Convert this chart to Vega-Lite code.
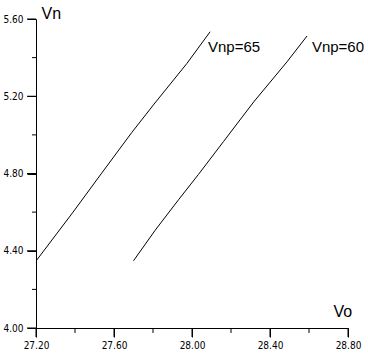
{
  "$schema": "https://vega.github.io/schema/vega-lite/v6.json",
  "width": 312,
  "height": 309,
  "autosize": "none",
  "padding": {"left": 36, "top": 19, "right": 20, "bottom": 31},
  "background": "white",
  "config": {
    "view": {"stroke": null},
    "font": "Liberation Sans"
  },
  "datasets": {
    "lines": [
      {"series": "65", "vo": 27.204, "vn": 4.352},
      {"series": "65", "vo": 27.39, "vn": 4.6},
      {"series": "65", "vo": 27.534, "vn": 4.798},
      {"series": "65", "vo": 27.691, "vn": 5.012},
      {"series": "65", "vo": 27.802, "vn": 5.155},
      {"series": "65", "vo": 27.974, "vn": 5.37},
      {"series": "65", "vo": 28.093, "vn": 5.534},
      {"series": "60", "vo": 27.70, "vn": 4.348},
      {"series": "60", "vo": 27.811, "vn": 4.506},
      {"series": "60", "vo": 27.931, "vn": 4.664},
      {"series": "60", "vo": 28.033, "vn": 4.795},
      {"series": "60", "vo": 28.162, "vn": 4.966},
      {"series": "60", "vo": 28.316, "vn": 5.17},
      {"series": "60", "vo": 28.487, "vn": 5.378},
      {"series": "60", "vo": 28.59, "vn": 5.512}
    ],
    "labels": [
      {"text": "Vnp=65", "vo": 28.082, "vn": 5.43},
      {"text": "Vnp=60", "vo": 28.615, "vn": 5.43}
    ],
    "minorX": [{"v": 27.4}, {"v": 27.8}, {"v": 28.2}, {"v": 28.6}],
    "minorY": [{"v": 4.2}, {"v": 4.6}, {"v": 5.0}, {"v": 5.4}],
    "majorX": [{"v": 27.2}, {"v": 27.6}, {"v": 28.0}, {"v": 28.4}, {"v": 28.8}],
    "majorY": [{"v": 4.0}, {"v": 4.4}, {"v": 4.8}, {"v": 5.2}, {"v": 5.6}]
  },
  "layer": [
    {
      "data": {"name": "lines"},
      "mark": {"type": "line", "color": "black", "strokeWidth": 1},
      "encoding": {
        "x": {
          "field": "vo", "type": "quantitative",
          "scale": {"domain": [27.2, 28.8], "nice": false, "zero": false},
          "axis": {
            "values": [27.2, 27.6, 28.0, 28.4, 28.8],
            "format": ".2f",
            "grid": false,
            "ticks": true,
            "domainColor": "black",
            "tickColor": "black",
            "tickSize": 9,
            "tickWidth": 1,
            "labelFont": "DejaVu Sans Condensed",
            "labelFontSize": 10,
            "labelColor": "black",
            "labelPadding": 3,
            "labelFlush": false,
            "labelOverlap": false,
            "title": "Vo",
            "titleFont": "Liberation Sans",
            "titleFontSize": 16,
            "titleFontWeight": "normal",
            "titleColor": "black",
            "titleAlign": "left",
            "titleBaseline": "alphabetic",
            "titleX": 297,
            "titleY": -12
          }
        },
        "y": {
          "field": "vn", "type": "quantitative",
          "scale": {"domain": [4.0, 5.6], "nice": false, "zero": false},
          "axis": {
            "values": [4.0, 4.4, 4.8, 5.2, 5.6],
            "format": ".2f",
            "grid": false,
            "ticks": true,
            "domainColor": "black",
            "tickColor": "black",
            "tickSize": 9,
            "tickWidth": 1,
            "labelFont": "DejaVu Sans Condensed",
            "labelFontSize": 10,
            "labelColor": "black",
            "labelPadding": 4,
            "labelFlush": false,
            "labelOverlap": false,
            "title": "Vn",
            "titleFont": "Liberation Sans",
            "titleFontSize": 16,
            "titleFontWeight": "normal",
            "titleColor": "black",
            "titleAngle": 0,
            "titleAlign": "left",
            "titleBaseline": "alphabetic",
            "titleX": 5,
            "titleY": -1
          }
        },
        "detail": {"field": "series"}
      }
    },
    {
      "data": {"name": "labels"},
      "mark": {"type": "text", "align": "left", "baseline": "alphabetic", "fontSize": 15, "font": "Liberation Sans", "color": "black"},
      "encoding": {
        "x": {"field": "vo", "type": "quantitative"},
        "y": {"field": "vn", "type": "quantitative"},
        "text": {"field": "text"}
      }
    },
    {
      "data": {"name": "minorX"},
      "mark": {"type": "tick", "orient": "vertical", "size": 5, "thickness": 1, "yOffset": 2.5, "color": "black", "opacity": 1},
      "encoding": {
        "x": {"field": "v", "type": "quantitative"},
        "y": {"datum": 4.0, "type": "quantitative"}
      }
    },
    {
      "data": {"name": "minorY"},
      "mark": {"type": "tick", "orient": "horizontal", "size": 4, "thickness": 1, "xOffset": -2, "color": "black", "opacity": 1},
      "encoding": {
        "y": {"field": "v", "type": "quantitative"},
        "x": {"datum": 27.2, "type": "quantitative"}
      }
    },
    {
      "data": {"name": "majorX"},
      "mark": {"type": "tick", "orient": "vertical", "size": 9, "thickness": 1, "yOffset": 4.5, "color": "black", "opacity": 1},
      "encoding": {
        "x": {"field": "v", "type": "quantitative"},
        "y": {"datum": 4.0, "type": "quantitative"}
      }
    },
    {
      "data": {"name": "majorY"},
      "mark": {"type": "tick", "orient": "horizontal", "size": 9, "thickness": 1, "xOffset": -4.5, "color": "black", "opacity": 1},
      "encoding": {
        "y": {"field": "v", "type": "quantitative"},
        "x": {"datum": 27.2, "type": "quantitative"}
      }
    }
  ]
}
